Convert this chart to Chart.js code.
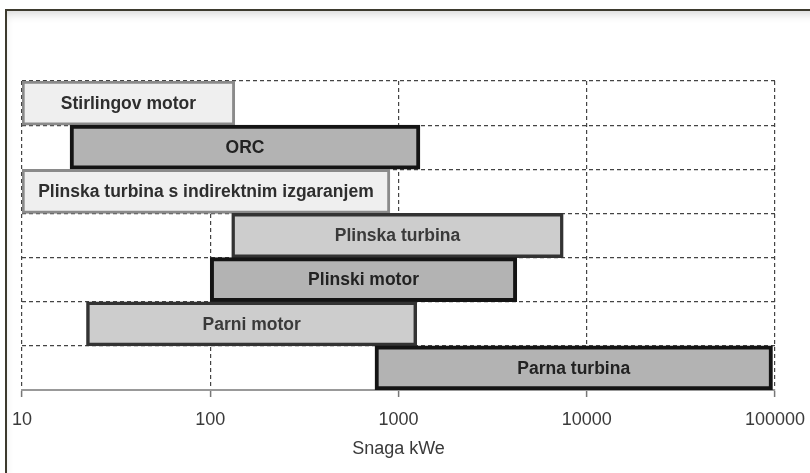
<!DOCTYPE html>
<html>
<head>
<meta charset="utf-8">
<script src="https://cdn.jsdelivr.net/npm/chart.js@4/dist/chart.umd.min.js"></script>
<style>
  html, body { margin: 0; padding: 0; background: #ffffff; }
  #wrap { position: relative; width: 810px; height: 473px; overflow: hidden; background: #fff; }
  #frame { position: absolute; left: 5px; top: 9px; width: 900px; height: 600px;
           border-left: 2px solid #3d3a2e; border-top: 2px solid #3d3a2e;
           box-shadow: inset 2px 8px 10px -5px rgba(0,0,0,0.16); pointer-events: none; }
  canvas { position: absolute; left: 0; top: 0; }
</style>
</head>
<body>
<div id="wrap">
  <canvas id="c" width="810" height="473"></canvas>
  <div id="frame"></div>
</div>
<script>
const categories = [
  "Stirlingov motor",
  "ORC",
  "Plinska turbina s indirektnim izgaranjem",
  "Plinska turbina",
  "Plinski motor",
  "Parni motor",
  "Parna turbina"
];
const rangeStart = [10, 18, 10, 130, 100, 22, 750];
const rangeEnd   = [135, 1300, 900, 7500, 4250, 1250, 97000];
const xTicks = [10, 100, 1000, 10000, 100000];
const xTitle = "Snaga kWe";

const fills   = ["#efefef", "#b3b3b3", "#efefef", "#cdcdcd", "#b3b3b3", "#cdcdcd", "#b3b3b3"];
const borders = ["#8a8a8a", "#141414", "#8a8a8a", "#333333", "#141414", "#333333", "#141414"];
const bWidths = [3, 4, 3, 3.5, 4, 3.5, 4];
const txtCols = ["#2e2e2e", "#222222", "#2e2e2e", "#3a3a3a", "#222222", "#3a3a3a", "#222222"];

const barLabels = {
  id: 'barLabels',
  afterDatasetsDraw(chart) {
    const ctx = chart.ctx;
    const meta = chart.getDatasetMeta(0);
    ctx.save();
    ctx.font = "bold 17.5px 'Liberation Sans', Arial, sans-serif";
    ctx.textAlign = 'center';
    ctx.textBaseline = 'middle';
    meta.data.forEach((el, i) => {
      ctx.fillStyle = txtCols[i];
      ctx.fillText(categories[i], (el.x + el.base) / 2, el.y + 1);
    });
    ctx.restore();
  }
};

new Chart(document.getElementById('c'), {
  type: 'bar',
  data: {
    labels: categories,
    datasets: [{
      data: rangeStart.map((s, i) => [s, rangeEnd[i]]),
      backgroundColor: fills,
      borderColor: borders,
      borderWidth: bWidths,
      borderSkipped: false,
      barPercentage: 1.0,
      categoryPercentage: 1.0
    }]
  },
  options: {
    indexAxis: 'y',
    responsive: false,
    animation: false,
    layout: { padding: { left: 22, right: 35, top: 81, bottom: 0 } },
    plugins: { legend: { display: false }, tooltip: { enabled: false } },
    scales: {
      x: {
        type: 'logarithmic',
        min: 10,
        max: 100000,
        afterBuildTicks(scale) { scale.ticks = xTicks.map(v => ({ value: v })); },
        afterFit(scale) { scale.height = 83; scale.paddingLeft = 0; scale.paddingRight = 0; },
        ticks: {
          autoSkip: false,
          maxRotation: 0,
          padding: 12,
          color: '#3a3a3a',
          font: { family: "'Liberation Sans', Arial, sans-serif", size: 18 },
          callback: (v) => String(v)
        },
        grid: {
          color: '#444444',
          lineWidth: 1.2,
          tickLength: 7,
          tickColor: '#777777',
          tickBorderDash: [],
          tickWidth: 1.5
        },
        border: { display: true, color: '#999999', width: 2, dash: [4, 3] },
        title: {
          display: true,
          text: xTitle,
          color: '#3a3a3a',
          font: { family: "'Liberation Sans', Arial, sans-serif", size: 18 },
          padding: { top: 0, bottom: 13 }
        }
      },
      y: {
        type: 'category',
        afterFit(scale) { scale.width = 0; },
        ticks: { display: false },
        grid: {
          offset: true,
          color: '#444444',
          lineWidth: 1.2,
          drawTicks: false
        },
        border: { display: false, dash: [4, 3] }
      }
    }
  },
  plugins: [barLabels]
});
</script>
</body>
</html>
